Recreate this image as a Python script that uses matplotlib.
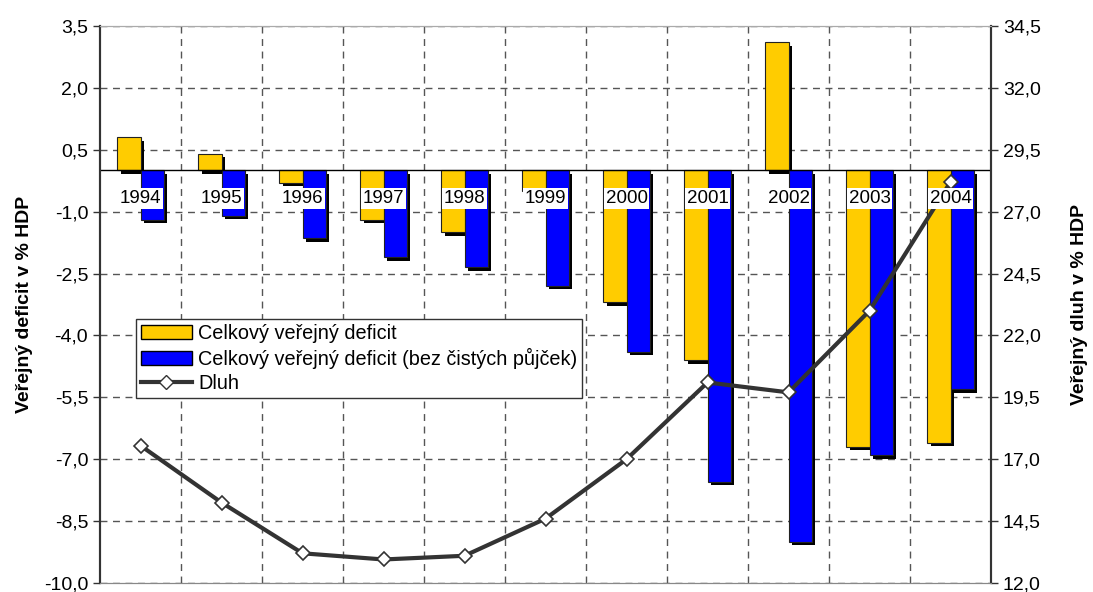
import matplotlib
matplotlib.use("Agg")
import matplotlib.pyplot as plt
import matplotlib.transforms as mtransforms
from matplotlib.patches import Patch
from matplotlib.lines import Line2D
from matplotlib.ticker import FuncFormatter
import numpy as np

plt.rcParams["font.family"] = ["Liberation Sans", "DejaVu Sans"]

# Deficit and debt of the public sector, % of GDP
years = ["1994", "1995", "1996", "1997", "1998", "1999",
         "2000", "2001", "2002", "2003", "2004"]
deficit_total = [0.8, 0.4, -0.3, -1.2, -1.5, -0.5, -3.2, -4.6, 3.1, -6.7, -6.6]
deficit_no_loans = [-1.2, -1.1, -1.65, -2.1, -2.35, -2.8, -4.4, -7.55, -9.0, -6.9, -5.3]
debt = [17.55, 15.25, 13.2, 12.95, 13.1, 14.6, 17.0, 20.1, 19.7, 23.0, 28.2]

left_ticks = np.arange(-10, 3.6, 1.5)
right_ticks = np.arange(12, 34.6, 2.5)

YELLOW = "#FFCC00"
BLUE = "#0000FF"
LINE = "#333333"

comma = FuncFormatter(lambda v, p: f"{v:.1f}".replace(".", ","))

fig = plt.figure(figsize=(10.93, 5.92), dpi=100)
ax1 = fig.add_axes([0.0915, 0.0152, 0.8152, 0.9409])
ax2 = ax1.twinx()

x = np.arange(len(years))
w = 0.285

# drop shadows: same bars shifted a few pixels right/down
shadow = mtransforms.offset_copy(ax1.transData, fig=fig, x=3.5, y=-3.5, units="dots")
ax1.bar(x - w / 2, deficit_total, w, color="black", transform=shadow, zorder=2)
ax1.bar(x + w / 2, deficit_no_loans, w, color="black", transform=shadow, zorder=2)

ax1.bar(x - w / 2, deficit_total, w, color=YELLOW, edgecolor="#222222",
        linewidth=0.8, zorder=3)
ax1.bar(x + w / 2, deficit_no_loans, w, color=BLUE, edgecolor="#222222",
        linewidth=0.8, zorder=3)
ax1.axhline(0, color="black", linewidth=1, zorder=4)

ax1.set_xlim(-0.5, len(years) - 0.5)
ax1.set_ylim(-10, 3.5)
ax1.set_yticks(left_ticks)
ax1.yaxis.set_major_formatter(comma)
ax1.set_xticks([])
ax1.set_xticks(np.arange(0.5, len(years) - 0.5, 1), minor=True)
ax1.tick_params(axis="x", which="both", length=0)
ax1.grid(True, axis="y", which="major", color="#555555", linestyle=(0, (5, 4)), linewidth=1)
ax1.grid(True, axis="x", which="minor", color="#555555", linestyle=(0, (5, 4)), linewidth=1)
ax1.set_axisbelow(True)
ax1.set_ylabel("Veřejný deficit v % HDP", fontsize=14, fontweight="bold", labelpad=8)

# debt line on the right axis
ax2.plot(x, debt, color=LINE, linewidth=3, marker="D", markersize=7,
         markerfacecolor="white", markeredgecolor=LINE, markeredgewidth=1.2, zorder=5)
ax2.set_ylim(12, 34.5)
ax2.set_yticks(right_ticks)
ax2.yaxis.set_major_formatter(comma)
ax2.set_ylabel("Veřejný dluh v % HDP", fontsize=14, fontweight="bold", labelpad=22)

for ax in (ax1, ax2):
    ax.tick_params(axis="y", labelsize=14, length=5, width=1, color="#333333")
    ax.spines["left"].set_color("#333333")
    ax.spines["right"].set_color("#333333")
    ax.spines["left"].set_linewidth(1.5)
    ax.spines["right"].set_linewidth(1.5)
    ax.spines["top"].set_color("#AAAAAA")
    ax.spines["bottom"].set_color("#888888")

# year labels sit just under the zero line, above the debt line
for i, yr in enumerate(years):
    ax2.annotate(yr, xy=(i, 0), xycoords=ax1.transData, xytext=(0, -20),
                 textcoords="offset points", ha="center", va="center", fontsize=13.5,
                 bbox=dict(boxstyle="square,pad=0.1", facecolor="white", edgecolor="none"),
                 zorder=6)

handles = [
    Patch(facecolor=YELLOW, edgecolor="black", linewidth=1),
    Patch(facecolor=BLUE, edgecolor="black", linewidth=1),
    Line2D([], [], color=LINE, linewidth=3, marker="D", markersize=7,
           markerfacecolor="white", markeredgecolor=LINE),
]
labels = ["Celkový veřejný deficit",
          "Celkový veřejný deficit (bez čistých půjček)",
          "Dluh"]
leg = ax2.legend(handles, labels, loc="upper left", bbox_to_anchor=(0.04, 0.474),
                 fontsize=14.3, frameon=True, fancybox=False, framealpha=1,
                 edgecolor="#333333", borderpad=0.25, labelspacing=0.25,
                 handlelength=2.6, handletextpad=0.3, borderaxespad=0)
leg.get_frame().set_linewidth(1)
leg.set_zorder(10)

fig.savefig("out.png", dpi=100)
